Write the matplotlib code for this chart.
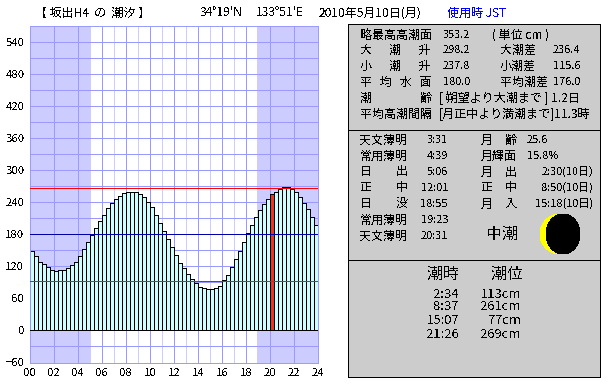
import matplotlib
matplotlib.use('Agg')
import matplotlib.pyplot as plt
from matplotlib.patches import Ellipse, Rectangle
import numpy as np

plt.rcParams['font.family'] = ['Noto Sans CJK JP', 'DejaVu Sans']
plt.rcParams['text.antialiased'] = False

# height every 20 minutes, cm
tide = [149, 139, 129, 124, 118, 114, 112, 113, 113, 116, 122, 129,
        140, 152, 165, 178, 191, 204, 217, 229, 238, 246, 251, 257,
        259, 259, 259, 255, 249, 240, 231, 217, 202, 187, 172, 156,
        141, 127, 116, 105, 96, 88, 82, 79, 77, 77, 79, 84,
        94, 103, 118, 133, 148, 165, 182, 197, 212, 225, 236, 247,
        255, 260, 264, 268, 268, 264, 259, 249, 238, 227, 212, 197]
sunrise = 5.1
sunset = 18.95
now_bar = 60
level_lines = [267, 180, 92]
level_colors = ['#FF0000', '#0000AA', '#CC2222']

hour_ticks = list(range(0, 25, 2))
hour_labels = ['%02d' % h for h in hour_ticks]
cm_ticks = list(range(-60, 541, 60))

# right panel texts
head = ['34°19\'N', '133°51\'E', '2010年5月10日(月)']
rows1 = ['略最高高潮面', '大　  潮　  升', '小　  潮　  升', '平   均   水   面', '潮　　　　齢', '平均高潮間隔']
vals1 = ['353.2', '298.2', '237.8', '180.0']
rows1b = ['大潮差', '小潮差', '平均潮差']
vals1b = ['236.4', '115.6', '176.0']
labels2 = ['天文薄明', '常用薄明', '日　　出', '正　　中', '日　　没', '常用薄明', '天文薄明']
times2 = ['3:31', '4:39', '5:06', '12:01', '18:55', '19:23', '20:31']
labels3 = ['月　齢', '月輝面', '月　出', '正　中', '月　入']
vals3 = ['25.6', '15.8%', '2:30(10日)', '8:50(10日)', '15:18(10日)']
high_low_t = ['2:34', '8:37', '15:07', '21:26']
high_low_h = ['113cm', '261cm', '77cm', '269cm']

thin = 0.7

fig = plt.figure(figsize=(6.1, 3.85), dpi=100, facecolor='white')

# page axes in pixels, for the panels and loose text
pg = fig.add_axes([0, 0, 1, 1])
pg.set_xlim(0, 610)
pg.set_ylim(385, 0)
pg.axis('off')


def put(x, y, s, px=12, ha='left', color='black'):
    pg.text(x, y, s, fontsize=px * 0.72, ha=ha, va='center', color=color)


# fig 1: tide chart
ax = fig.add_axes([30 / 610, (385 - 362.5) / 385, 288 / 610, 336.5 / 385])
ax.set_xlim(0, 24)
ax.set_ylim(-60, 570)
ax.axvspan(0, sunrise, color='#CCCCFF', lw=0, zorder=0, antialiased=False)
ax.axvspan(sunset, 24, color='#CCCCFF', lw=0, zorder=0, antialiased=False)
for h in range(1, 24, 2):
    ax.axvline(h, color='#CCCCFF', lw=thin, zorder=1, antialiased=False)
for h in range(2, 24, 2):
    ax.axvline(h, color='#9999FF', lw=thin, zorder=1, antialiased=False)
for c in range(-30, 570, 30):
    ax.axhline(c, color='#9999FF', lw=thin, zorder=1, antialiased=False)

t = np.arange(len(tide)) / 3
colors = ['#CCFFFF'] * len(tide)
colors[now_bar] = '#EE3322'
ax.bar(t, tide, width=1 / 3, align='edge', color=colors, edgecolor='black',
       linewidth=thin, zorder=2, antialiased=False)
ax.axhline(0, color='black', lw=thin, zorder=3, antialiased=False)
for lv, c in zip(level_lines, level_colors):
    ax.axhline(lv, color=c, lw=thin, zorder=4, antialiased=False)

ax.set_xticks(hour_ticks)
ax.set_xticklabels(hour_labels)
ax.set_yticks(cm_ticks)
ax.tick_params(length=0, labelsize=8.2, pad=4)
for s in ax.spines.values():
    s.set_color('#9999FF')
    s.set_linewidth(thin)

# header
put(35, 13, '【 坂出H4  の  潮汐 】')
put(200, 13, head[0])
put(256, 13, head[1])
put(319, 13, head[2])
put(447, 13, '使用時 JST', color='#0000FF')

# fig 2: grey panels
for top, bottom in [(24, 130), (130, 260), (260, 377)]:
    pg.add_patch(Rectangle((347.5, top), 252.5, bottom - top, facecolor='#CCCCCC',
                           edgecolor='black', lw=thin, antialiased=False))

ys1 = [35, 50, 66, 82, 98, 114]
for y, s in zip(ys1, rows1):
    put(360, y, s)
for y, s in zip(ys1, vals1):
    put(443, y, s, px=11)
put(492, ys1[0], '( 単位 cm )')
for y, s, v in zip(ys1[1:4], rows1b, vals1b):
    put(500, y, s)
    put(553, y, v, px=11)
put(439, ys1[4], '[ 朔望より大潮まで ] 1.2日')
put(439, ys1[5], '[月正中より満潮まで]11.3時')

ys2 = [140, 156, 172, 188, 204, 220, 236]
for y, s, v in zip(ys2, labels2, times2):
    put(360, y, s)
    put(448, y, v, px=11, ha='right')
for i, (s, v) in enumerate(zip(labels3, vals3)):
    put(481, ys2[i], s)
    if i < 2:
        put(527, ys2[i], v, px=11)
    else:
        put(593, ys2[i], v, px=11, ha='right')
put(486, 234, '中潮', px=16)

# moon
pg.add_patch(Ellipse((560, 234), 40, 40, facecolor='#FFFF00', lw=0, antialiased=False))
pg.add_patch(Ellipse((563, 234), 34, 40, facecolor='black', lw=0, antialiased=False))

put(443, 274, '潮時', px=16, ha='center')
put(507, 274, '潮位', px=16, ha='center')
for y, a, b in zip([294, 307, 320.5, 334], high_low_t, high_low_h):
    put(459, y, a, px=13, ha='right')
    put(521, y, b, px=13, ha='right')

fig.savefig('out.png', dpi=100)
